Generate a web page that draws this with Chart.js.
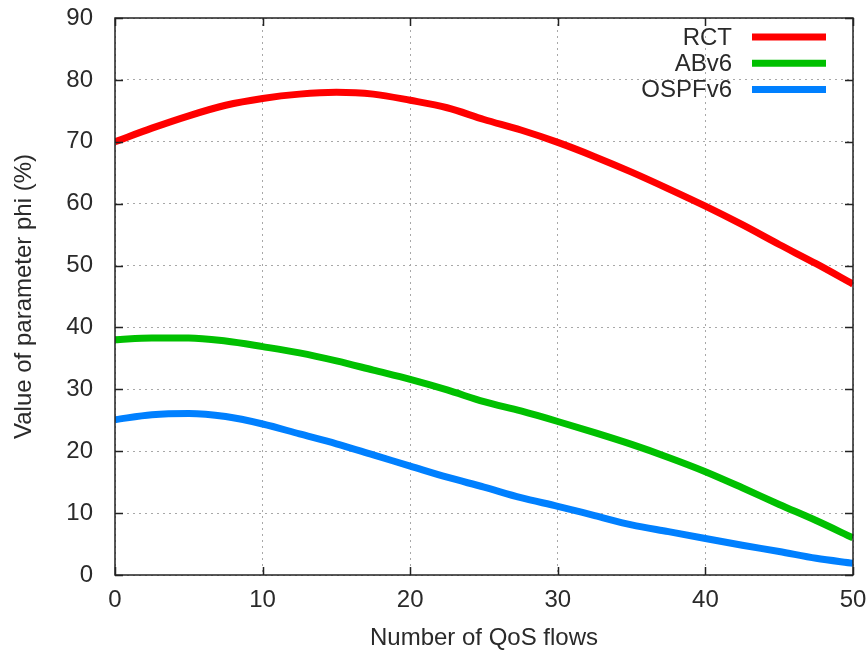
<!DOCTYPE html>
<html>
<head>
<meta charset="utf-8">
<script src="https://cdn.jsdelivr.net/npm/chart.js@4.4.1/dist/chart.umd.min.js"></script>
<style>
  html, body { margin: 0; padding: 0; background: #fff; }
  #wrap { width: 867px; height: 653px; }
</style>
</head>
<body>
<div id="wrap"><canvas id="canvas" width="867" height="653"></canvas></div>
<script>
// x positions (number of QoS flows)
const flows = [0, 2.5, 5, 7.5, 10, 12.5, 15, 17.5, 20, 22.5, 25, 27.5, 30, 32.5, 35, 37.5, 40, 42.5, 45, 47.5, 50];

// phi values (%)
const rct    = [70.0, 72.2, 74.2, 75.9, 77.0, 77.7, 78.0, 77.7, 76.7, 75.5, 73.6, 71.9, 69.9, 67.6, 65.1, 62.4, 59.6, 56.6, 53.4, 50.3, 47.0];
const abv6   = [38.0, 38.3, 38.3, 37.8, 36.9, 35.9, 34.6, 33.1, 31.6, 29.9, 28.0, 26.5, 24.8, 23.0, 21.1, 19.0, 16.7, 14.1, 11.4, 8.8, 6.0];
const ospfv6 = [25.1, 25.9, 26.1, 25.6, 24.4, 22.8, 21.2, 19.4, 17.6, 15.8, 14.2, 12.5, 11.1, 9.6, 8.1, 7.0, 5.9, 4.8, 3.8, 2.7, 1.9];

const seriesNames = ['RCT', 'ABv6', 'OSPFv6'];
const seriesColors = ['#ff0000', '#00c000', '#0080ff'];
const xTicks = [0, 10, 20, 30, 40, 50];
const yTicks = [0, 10, 20, 30, 40, 50, 60, 70, 80, 90];

const FONT = 'Liberation Sans, Arial, sans-serif';
const TEXT = '#2a2a2a';

function pts(ys) {
    return flows.map((x, i) => ({ x: x, y: ys[i] }));
}

// frame, inward ticks and gnuplot-style legend
const framePlugin = {
    id: 'frame',
    afterDatasetsDraw(chart) {
        const ctx = chart.ctx;
        const a = chart.chartArea;
        const xs = chart.scales.x, ys = chart.scales.y;
        ctx.save();
        ctx.strokeStyle = '#222';
        ctx.lineWidth = 1.5;
        ctx.strokeRect(a.left, a.top, a.right - a.left, a.bottom - a.top);
        ctx.beginPath();
        xTicks.forEach(v => {
            const px = Math.round(xs.getPixelForValue(v)) + 0.5;
            ctx.moveTo(px, a.bottom); ctx.lineTo(px, a.bottom - 8);
            ctx.moveTo(px, a.top); ctx.lineTo(px, a.top + 8);
        });
        yTicks.forEach(v => {
            const py = Math.round(ys.getPixelForValue(v)) + 0.5;
            ctx.moveTo(a.left, py); ctx.lineTo(a.left + 8, py);
            ctx.moveTo(a.right, py); ctx.lineTo(a.right - 8, py);
        });
        ctx.stroke();

        // legend
        ctx.font = '24px ' + FONT;
        ctx.textAlign = 'right';
        ctx.textBaseline = 'middle';
        chart.data.datasets.forEach((ds, i) => {
            const y = a.top + 19 + i * 26.3;
            ctx.fillStyle = TEXT;
            ctx.fillText(ds.label, a.right - 121, y + 1);
            ctx.strokeStyle = ds.borderColor;
            ctx.lineWidth = 7;
            ctx.beginPath();
            ctx.moveTo(a.right - 101, y);
            ctx.lineTo(a.right - 27, y);
            ctx.stroke();
        });
        ctx.restore();
    }
};

const ctx = document.getElementById('canvas').getContext('2d');
const chart = new Chart(ctx, {
    type: 'line',
    data: {
        datasets: [
            { label: seriesNames[0], data: pts(rct), borderColor: seriesColors[0] },
            { label: seriesNames[1], data: pts(abv6), borderColor: seriesColors[1] },
            { label: seriesNames[2], data: pts(ospfv6), borderColor: seriesColors[2] }
        ]
    },
    options: {
        responsive: false,
        animation: false,
        layout: { padding: { top: 18, right: 14, left: 0, bottom: 0 } },
        elements: {
            line: { borderWidth: 7, cubicInterpolationMode: 'monotone', fill: false },
            point: { radius: 0 }
        },
        plugins: {
            legend: { display: false },
            tooltip: { enabled: false }
        },
        scales: {
            x: {
                type: 'linear',
                min: 0,
                max: 50,
                afterBuildTicks: s => { s.ticks = xTicks.map(v => ({ value: v })); },
                afterFit: s => { s.height = 78; s.paddingLeft = 0; s.paddingRight = 0; },
                grid: { color: '#a8a8a8', lineWidth: 1, drawTicks: false },
                border: { display: false, dash: [2, 4] },
                ticks: { padding: 11, color: TEXT, font: { family: FONT, size: 24 } },
                title: {
                    display: true,
                    text: 'Number of QoS flows',
                    color: TEXT,
                    font: { family: FONT, size: 24, lineHeight: 1.2 },
                    padding: { top: 0, bottom: 0 }
                }
            },
            y: {
                min: 0,
                max: 90,
                afterBuildTicks: s => { s.ticks = yTicks.map(v => ({ value: v })); },
                afterFit: s => { s.width = 115; s.paddingTop = 0; s.paddingBottom = 0; },
                grid: { color: '#a8a8a8', lineWidth: 1, drawTicks: false },
                border: { display: false, dash: [2, 4] },
                ticks: { padding: 22, color: TEXT, font: { family: FONT, size: 24 } },
                title: {
                    display: true,
                    text: 'Value of parameter phi (%)',
                    color: TEXT,
                    font: { family: FONT, size: 24, lineHeight: 1.2 },
                    padding: { top: 10, bottom: 0 }
                }
            }
        }
    },
    plugins: [framePlugin]
});
</script>
</body>
</html>
